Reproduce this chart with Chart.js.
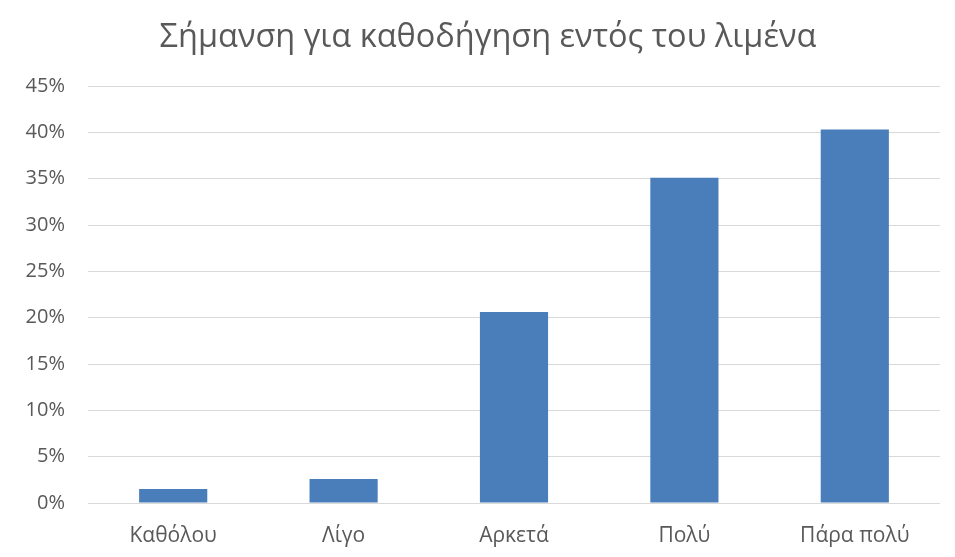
<!DOCTYPE html>
<html>
<head>
<meta charset="utf-8">
<script src="https://cdn.jsdelivr.net/npm/chart.js@4/dist/chart.umd.min.js"></script>
<style>
  html, body { margin: 0; padding: 0; background: #ffffff; }
  #wrap { width: 955px; height: 557px; }
</style>
</head>
<body>
<div id="wrap"><canvas id="barChart" width="955" height="557"></canvas></div>
<script>
const categories = ['Καθόλου', 'Λίγο', 'Αρκετά', 'Πολύ', 'Πάρα πολύ'];
const percentages = [1.5, 2.6, 20.6, 35.1, 40.3];
const tickValues = [0, 5, 10, 15, 20, 25, 30, 35, 40, 45];

// nudge the title block so it centres over the plot rather than the canvas
const titleShift = {
    id: 'titleShift',
    afterLayout: function (chart) {
        if (chart.titleBlock) {
            chart.titleBlock.left += 36;
        }
    }
};

document.addEventListener('DOMContentLoaded', function () {
    const ctx = document.getElementById('barChart').getContext('2d');

    const data = {
        labels: categories,
        datasets: [{
            label: 'Σήμανση',
            data: percentages,
            backgroundColor: '#4a7ebb',
            borderWidth: 0,
            barPercentage: 0.4,
            categoryPercentage: 1.0
        }]
    };

    const config = {
        type: 'bar',
        data: data,
        plugins: [titleShift],
        options: {
            responsive: false,
            animation: false,
            layout: {
                padding: { left: 0, right: 15, top: 0, bottom: 0 }
            },
            scales: {
                x: {
                    grid: { display: false },
                    border: { display: false },
                    ticks: {
                        color: '#595959',
                        font: { family: 'Open Sans', size: 21 },
                        padding: 12
                    },
                    afterFit: function (axis) { axis.height = 54; }
                },
                y: {
                    min: 0,
                    max: 45,
                    afterBuildTicks: function (axis) {
                        axis.ticks = tickValues.map(v => ({ value: v }));
                    },
                    grid: {
                        color: '#d9d9d9',
                        lineWidth: 1,
                        drawTicks: false
                    },
                    border: { display: false },
                    ticks: {
                        color: '#595959',
                        font: { family: 'Open Sans', size: 20 },
                        padding: 23,
                        callback: function (value) { return value + '%'; }
                    },
                    afterFit: function (axis) { axis.width = 88; }
                }
            },
            plugins: {
                legend: { display: false },
                tooltip: { enabled: false },
                title: {
                    display: true,
                    text: 'Σήμανση για καθοδήγηση εντός του λιμένα',
                    color: '#595959',
                    font: { family: 'Open Sans', size: 32.5, weight: 'normal', lineHeight: 1.2 },
                    padding: { top: 18, bottom: 29 }
                }
            }
        }
    };

    new Chart(ctx, config);
});
</script>
</body>
</html>
